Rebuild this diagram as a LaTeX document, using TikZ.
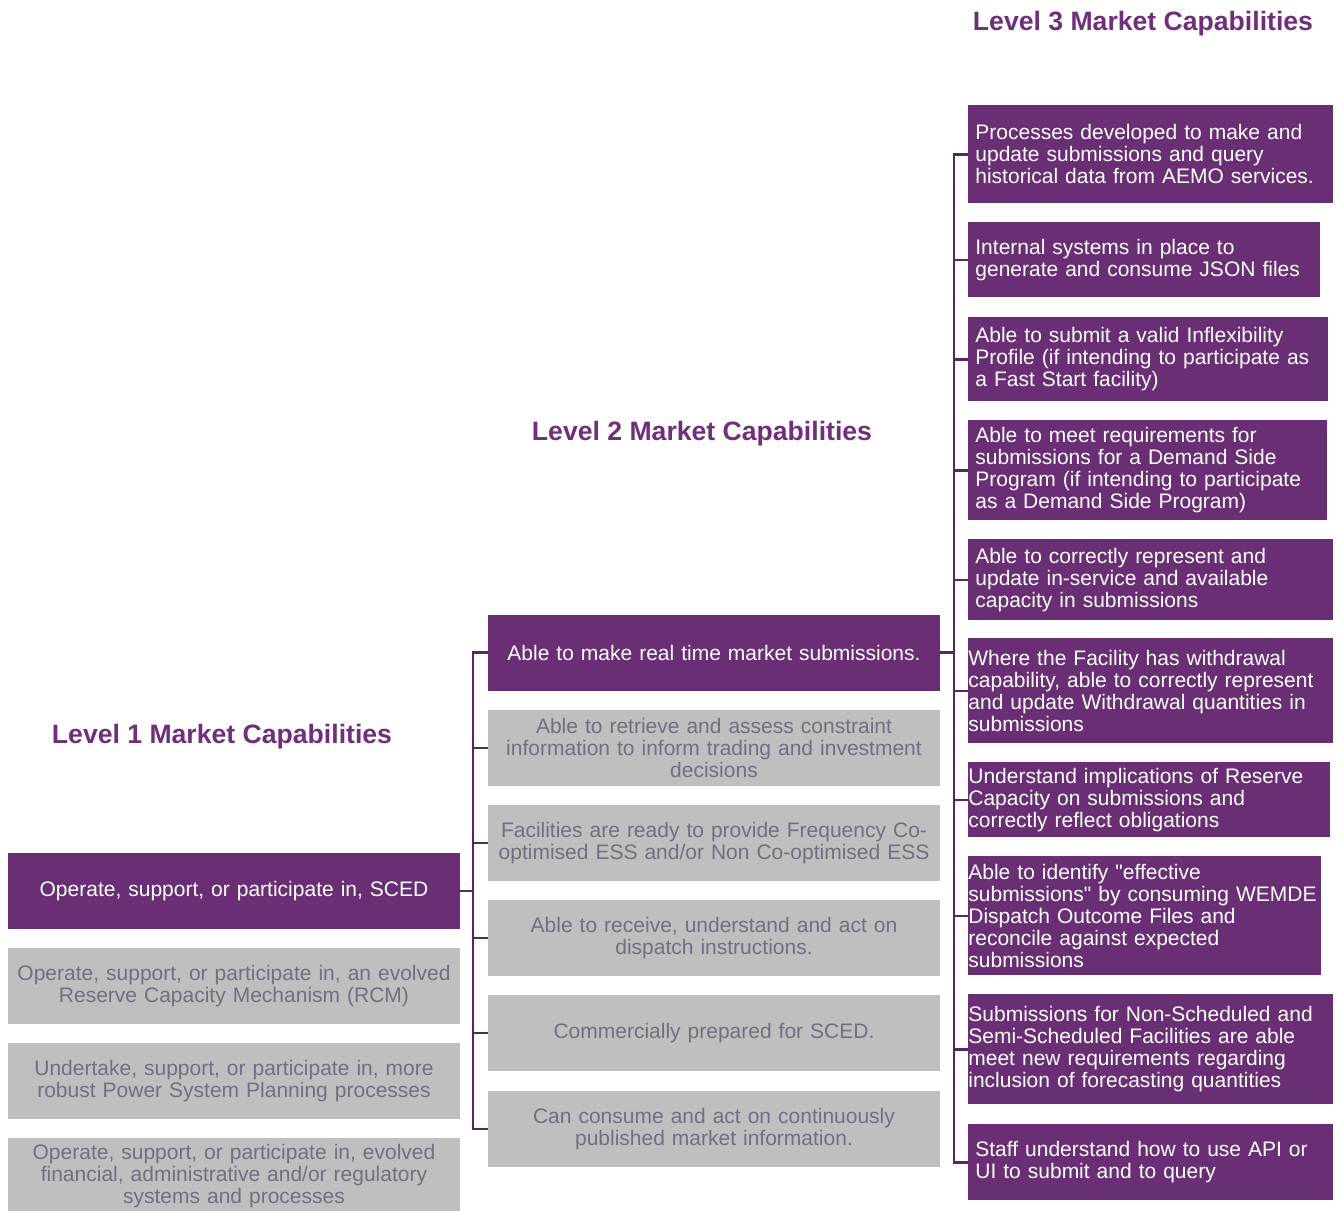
\documentclass[tikz,border=0pt]{standalone}
\usepackage{fontspec}
\setmainfont{Liberation Sans}
\definecolor{capPurple}{RGB}{106,46,117}
\definecolor{capTitle}{RGB}{112,46,124}
\definecolor{capLine}{RGB}{92,36,98}
\definecolor{capGrey}{RGB}{191,191,191}
\definecolor{capGreyText}{RGB}{112,112,128}
\begin{document}
\begin{tikzpicture}[x=0.5pt, y=-0.5pt,
  capbox/.style={rectangle, inner xsep=3.5pt, inner ysep=0pt, minimum height=38pt, text width=219pt, align=center, font=\fontsize{10.5}{11}\selectfont},
  purplebox/.style={capbox, fill=capPurple, text=white},
  greybox/.style={capbox, fill=capGrey, text=capGreyText},
  lthree/.style={rectangle, anchor=north west, fill=capPurple, text=white, align=left, inner xsep=3.5pt, inner ysep=0pt, font=\fontsize{10.5}{11}\selectfont},
  leveltitle/.style={font=\bfseries\fontsize{13.3}{16}\selectfont, text=capTitle},
  bus/.style={line width=1.3pt, capLine}]

\useasboundingbox (0,0) rectangle (1341,1211);
\clip (0,0) rectangle (1341,1211);

% titles
\node[leveltitle] (title3) at (1143,24) {Level 3 Market Capabilities};
\node[leveltitle] (title2) at (702,434) {Level 2 Market Capabilities};
\node[leveltitle] (title1) at (222,737) {Level 1 Market Capabilities};

% level 1
\node[purplebox] (sced) at (234,891) {Operate, support, or participate in, SCED};
\node[greybox] (rcm) at (234,986) {Operate, support, or participate in, an evolved\\Reserve Capacity Mechanism (RCM)};
\node[greybox] (psp) at (234,1081) {Undertake, support, or participate in, more\\robust Power System Planning processes};
\node[greybox] (fin) at (234,1176) {Operate, support, or participate in, evolved\\financial, administrative and/or regulatory\\systems and processes};

% level 2
\node[purplebox] (two1) at (714,652.5) {Able to make real time market submissions.};
\node[greybox] (two2) at (714,748) {Able to retrieve and assess constraint\\information to inform trading and investment\\decisions};
\node[greybox] (two3) at (714,843) {Facilities are ready to provide Frequency Co-\\optimised ESS and/or Non Co-optimised ESS};
\node[greybox] (two4) at (714,938) {Able to receive, understand and act on\\dispatch instructions.};
\node[greybox] (two5) at (714,1033) {Commercially prepared for SCED.};
\node[greybox] (two6) at (714,1129) {Can consume and act on continuously\\published market information.};

% level 3
\node[lthree, text width=175.5pt, minimum height=49pt] (c1) at (968,105) {Processes developed to make and\\update submissions and query\\historical data from AEMO services.};
\node[lthree, text width=169pt, minimum height=37.5pt] (c2) at (968,222) {Internal systems in place to\\generate and consume JSON files};
\node[lthree, text width=173pt, minimum height=42pt] (c3) at (968,317) {Able to submit a valid Inflexibility\\Profile (if intending to participate as\\a Fast Start facility)};
\node[lthree, text width=172.5pt, minimum height=50pt] (c4) at (968,420) {Able to meet requirements for\\submissions for a Demand Side\\Program (if intending to participate\\as a Demand Side Program)};
\node[lthree, text width=175.5pt, minimum height=40.5pt] (c5) at (968,539) {Able to correctly represent and\\update in-service and available\\capacity in submissions};
\node[lthree, inner xsep=0pt, text width=182.5pt, minimum height=52.5pt] (c6) at (968,638) {Where the Facility has withdrawal\\capability, able to correctly represent\\and update Withdrawal quantities in\\submissions};
\node[lthree, inner xsep=0pt, text width=181pt, minimum height=37.5pt] (c7) at (968,762) {Understand implications of Reserve\\Capacity on submissions and\\correctly reflect obligations};
\node[lthree, inner xsep=0pt, text width=176.5pt, minimum height=59.5pt] (c8) at (968,856) {Able to identify \textquotedbl effective\\submissions\textquotedbl{} by consuming WEMDE\\Dispatch Outcome Files and\\reconcile against expected\\submissions};
\node[lthree, inner xsep=0pt, text width=182.5pt, minimum height=55pt] (c9) at (968,994) {Submissions for Non-Scheduled and\\Semi-Scheduled Facilities are able\\meet new requirements regarding\\inclusion of forecasting quantities};
\node[lthree, text width=175.5pt, minimum height=38pt] (c10) at (968,1124) {Staff understand how to use API or\\UI to submit and to query};

% brackets
\coordinate (busTwo) at (473,0);
\coordinate (busThree) at (954,0);

\draw[bus] (sced.east) -- (sced.east -| busTwo); %sced-bus
\draw[bus] (two1.west) -- (busTwo |- two1.west) -- (busTwo |- two6.west) -- (two6.west);
\foreach \n in {2,...,5}
  \draw[bus] (busTwo |- two\n.west) -- (two\n.west);

\draw[bus] (two1.east) -- (two1.east -| busThree); %two1-bus
\draw[bus] (c1.west) -- (busThree |- c1.west) -- (busThree |- c10.west) -- (c10.west);
\foreach \n in {2,...,9}
  \draw[bus] (busThree |- c\n.west) -- (c\n.west);

\end{tikzpicture}
\end{document}
